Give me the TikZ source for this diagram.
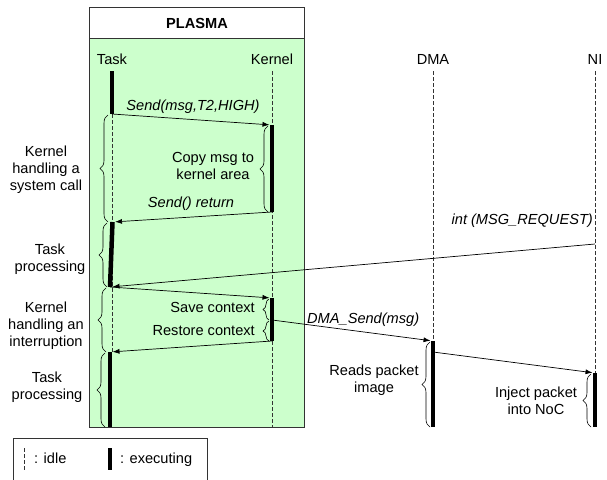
\documentclass[tikz,border=0pt]{standalone}
\usepackage{fontspec}
\setmainfont{Liberation Sans}
\usetikzlibrary{positioning, calc, arrows.meta, decorations.pathreplacing}
\definecolor{plasmagreen}{RGB}{204,255,204}

\begin{document}
\begin{tikzpicture}[
        x=1pt, y=-1pt,
        font=\fontsize{14.6}{16.8}\selectfont,
        head/.style={
          anchor=base, inner sep=0pt
        },
        lifeline/.style={
          draw=black!80, line width=.6pt, dash pattern=on 4pt off 2pt
        },
        busy/.style={
          line width=4.5pt
        },
        msg/.style={
          ->, line width=.7pt, shorten >=2.5pt
        },
        call/.style={
          inner sep=0pt, font=\fontsize{14.6}{16.8}\selectfont\itshape
        },
        note/.style={
          align=center, inner sep=0pt
        },
        curly/.style={
          decorate, decoration={brace, amplitude=#1}, line width=.6pt
        },
        curly/.default=8pt,
        >={Latex[length=7pt, width=5pt]},
      ]
        \useasboundingbox (0,0) rectangle (607,479);

        % PLASMA frame
        \fill [plasmagreen] (89,38) rectangle (304,427);
        \draw [black!80] (89,7) rectangle (304,427);
        \draw [black!80] (89,38) -- (304,38);
        \node [head, font=\fontsize{14.6}{16.8}\selectfont\bfseries] (plasma) at (197,28) {PLASMA};

        % Lifeline heads
        \node [head] (task) at (112,64) {Task};
        \node [head] (kernel) at (272,64) {Kernel};
        \node [head] (dma) at (433,64) {DMA};
        \node [head] (ni) at (595,64) {NI};

        % Points on the lifelines
        \coordinate (t0) at (112,71);
        \coordinate (t1) at (112,114);
        \coordinate (t2) at (112.5,222);
        \coordinate (t3) at (110,287);
        \coordinate (t4) at (110,352);
        \coordinate (t5) at (110,427);
        \coordinate (k0) at (272,71);
        \coordinate (k1) at (272,125);
        \coordinate (k2) at (272,212);
        \coordinate (k3) at (272,298);
        \coordinate (k4) at (272,320);
        \coordinate (k5) at (272,341);
        \coordinate (k6) at (272,427);
        \coordinate (d0) at (433,71);
        \coordinate (d1) at (433,341);
        \coordinate (d2) at (433,352);
        \coordinate (d3) at (433,427);
        \coordinate (n0) at (595,71);
        \coordinate (n1) at (595,244);
        \coordinate (n2) at (595,373);
        \coordinate (n3) at (595,427);

        % Idle lines
        \draw [lifeline] (112,114) -- (112,352);
        \draw [lifeline] (k0) -- (k6);
        \draw [lifeline] (d0) -- (d1);
        \draw [lifeline] (n0) -- (n2);

        % Executing bars
        \draw [busy] (t0) -- (t1);
        \draw [busy] (t2) -- (t3);
        \draw [busy] (t4) -- (t5);
        \draw [busy] (k1) -- (k2);
        \draw [busy] (k3) -- (k5);
        \draw [busy] (d1) -- (d3);
        \draw [busy] (n2) -- (n3);

        % Messages
        \draw [msg] (t1) -- (k1);
        \draw [msg] (k2) -- (t2);
        \draw [msg] (n1) -- (t3);
        \draw [msg] (t3) -- (k3);
        \draw [msg] (k5) -- (t4);
        \draw [msg] (k4) -- (d1);
        \draw [msg] (d2) -- (n2);
        \node [call, anchor=base] (send) at (193,110) {Send(msg,T2,HIGH)};
        \node [call, anchor=base] (ret) at (191,207) {Send() return};
        \node [call, anchor=base east] (intreq) at (593,224) {int (MSG\_REQUEST)};
        \node [call, anchor=base west] (dmasend) at (307,323) {DMA\_Send(msg)};

        % Braces on the task side
        \draw [curly] (108,222) -- (108,115);
        \draw [curly] (107,287) -- (107,223);
        \draw [curly] (106,352) -- (106,288);
        \draw [curly] (105,427) -- (105,353);
        \node [note] (syscall) at (46,170) {Kernel\\handling a\\system call};
        \node [note] (proc1) at (50,259) {Task\\processing};
        \node [note] (irq) at (46,326) {Kernel\\handling an\\interruption};
        \node [note] (proc2) at (47,387) {Task\\processing};

        % Braces on the kernel, DMA and NI side
        \draw [curly] (268,212) -- (268,126);
        \draw [curly=6pt] (269,320) -- (269,299);
        \draw [curly=6pt] (269,341) -- (269,321);
        \draw [curly] (430,427) -- (430,342);
        \draw [curly] (591,427) -- (591,374);
        \node [note] (copy) at (213,166) {Copy msg to\\kernel area};
        \node [head, anchor=base east] (save) at (255,312) {Save context};
        \node [head, anchor=base east] (restore) at (255,335) {Restore context};
        \node [note] (reads) at (374,380) {Reads packet\\image};
        \node [note] (inject) at (536,401) {Inject packet\\into NoC};

        %legend
        \draw [black!80] (13,481) |- (207,438) -- (207,481);
        \draw [lifeline] (24,448) -- (24,470);
        \draw [busy] (110,448) -- (110,470);
        \node [head, anchor=base west] (idle) at (34,463) {: idle};
        \node [head, anchor=base west] (exec) at (120,463) {: executing};

      \end{tikzpicture}
\end{document}
